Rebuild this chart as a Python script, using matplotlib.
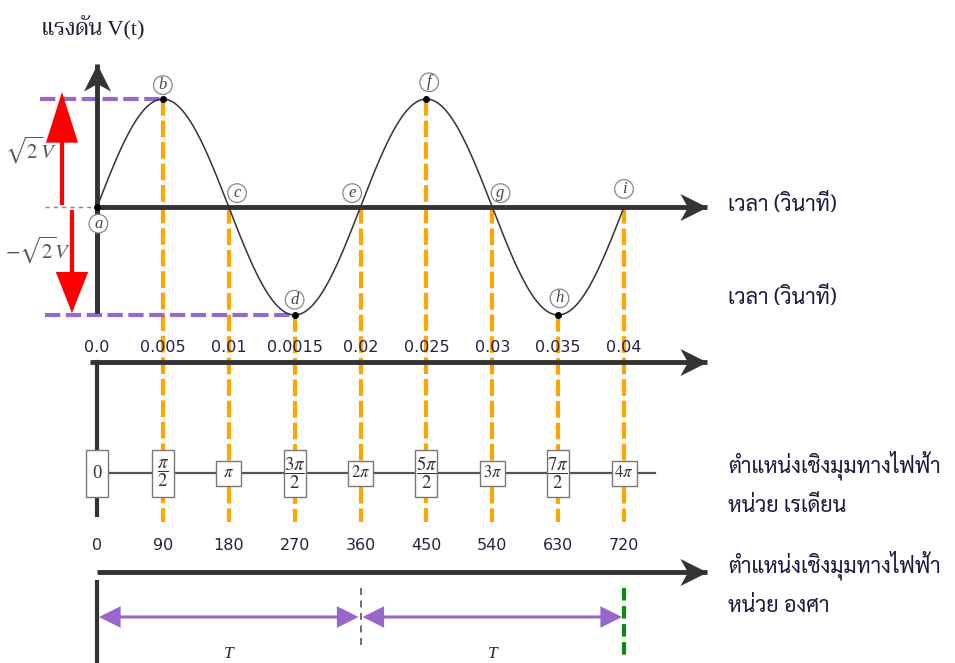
import numpy as np
import matplotlib
matplotlib.use('Agg')
import matplotlib.pyplot as plt
from matplotlib.patches import FancyArrowPatch, Rectangle
from matplotlib.path import Path
from matplotlib.markers import MarkerStyle
from matplotlib.transforms import Affine2D

plt.rcParams['lines.scale_dashes'] = False
plt.rcParams['mathtext.fontset'] = 'stix'

THAI = ['Sarabun', 'Niramit', 'DejaVu Sans']
THAI_SERIF = ['Liberation Serif', 'Trirong', 'Niramit']

# waveform: 50 Hz, two full cycles
FREQ = 50.0
t_ticks = [0.0, 0.005, 0.01, 0.015, 0.02, 0.025, 0.03, 0.035, 0.04]
t_labels = ['0.0', '0.005', '0.01', '0.0015', '0.02', '0.025', '0.03', '0.035', '0.04']
point_names = ['a', 'b', 'c', 'd', 'e', 'f', 'g', 'h', 'i']
rad_labels = ['0', r'$\dfrac{\pi}{2}$', r'$\pi$', r'$\dfrac{3\pi}{2}$', r'$2\pi$',
              r'$\dfrac{5\pi}{2}$', r'$3\pi$', r'$\dfrac{7\pi}{2}$', r'$4\pi$']
deg_labels = [0, 90, 180, 270, 360, 450, 540, 630, 720]
period_marks = [0.0, 0.02, 0.04]

# layout (pixel rows of the 955x663 canvas)
W, H = 955, 663
X0, Y0 = 97, 207
PX_PER_S = 527 / 0.04
AMP_PX = 108


def px(p):
    return (p - X0) / PX_PER_S


def py(p):
    return (Y0 - p) / AMP_PX


fig = plt.figure(figsize=(W / 100, H / 100), dpi=100)
ax = fig.add_axes([0, 0, 1, 1])
ax.set_xlim(px(0), px(W))
ax.set_ylim(py(H), py(0))
ax.axis('off')

AXC = '#333333'
ORANGE = '#FFA500'
PURPLE = '#9966CC'

# concave arrow head, tip at the origin, pointing +x
HEAD = Path([(0, 0), (-1, 0.5), (-0.72, 0), (-1, -0.5), (0, 0)],
            [Path.MOVETO, Path.LINETO, Path.LINETO, Path.LINETO, Path.CLOSEPOLY])


def axis_arrow(p0, p1, lw=3.5):
    (x0, y0), (x1, y1) = p0, p1
    ang = 90 if x0 == x1 else 0
    ax.plot([x0, x1], [y0, y1], color=AXC, lw=lw, zorder=3, solid_capstyle='butt')
    m = MarkerStyle(HEAD, transform=Affine2D().rotate_deg(ang))
    ax.plot([x1], [y1], marker=m, ms=39, color=AXC, mew=0, zorder=3)


def arrow(p0, p1, style, lw, color, ms=10, z=3):
    a = FancyArrowPatch(p0, p1, arrowstyle=style, lw=lw, color=color,
                        mutation_scale=ms, shrinkA=0, shrinkB=0, zorder=z,
                        joinstyle='miter', capstyle='butt')
    ax.add_patch(a)


tt = np.array(t_ticks)
vv = np.sin(2 * np.pi * FREQ * tt)

# orange drop lines from each marked point
for t, v in zip(tt[1:], vv[1:]):
    ax.plot([t, t], [v, py(522)], color=ORANGE, lw=3, ls=(0, (12, 3.5)), zorder=1)

# peak guide lines
ax.plot([px(40), tt[1]], [vv[1], vv[1]], color=PURPLE, lw=3, ls=(0, (11, 4)), zorder=2)
ax.plot([px(45), tt[3]], [vv[3], vv[3]], color=PURPLE, lw=3, ls=(0, (11, 4)), zorder=2)
ax.plot([px(45), 0], [0, 0], color='#888888', lw=1, ls=(0, (3, 3)), zorder=2)

# voltage / time axes
ax.plot([0, 0], [py(313), 0], color=AXC, lw=3.5, zorder=3, solid_capstyle='butt')
axis_arrow((0, py(313)), (0, py(64)))
axis_arrow((0, 0), (px(707), 0))

# sine wave
t = np.linspace(0, 0.04, 400)
ax.plot(t, np.sin(2 * np.pi * FREQ * t), color='#333333', lw=1.1, zorder=4)
ax.plot(tt[[1, 3, 5, 7]], vv[[1, 3, 5, 7]], 'o', color='black', ms=4, zorder=5)
ax.plot([0], [0], 'o', color='black', ms=4, zorder=5)

# circled point letters
offsets = [(1, -12), (0, 10), (6, 10), (0, 11), (-6, 10), (2, 12), (6, 10), (1, 12), (0, 13)]
for name, t0, v0, off in zip(point_names, tt, vv, offsets):
    ax.annotate(name, (t0, v0), xytext=off, textcoords='offset points',
                ha='center', va='center', fontsize=12, style='italic',
                family='Liberation Serif', color='#444444', zorder=6,
                bbox=dict(boxstyle='circle,pad=0.08', fc='white', ec='#888888', lw=0.9))

# amplitude arrows
arrow((px(62), py(205)), (px(62), py(92)), '-|>,head_length=3.0,head_width=0.95', 3, 'red', ms=10)
arrow((px(72), py(210)), (px(72), py(313)), '-|>,head_length=2.4,head_width=0.95', 3, 'red', ms=10)
ax.text(px(31), py(150), r'$\sqrt{2}V$', fontsize=15, color='#555555', ha='center', va='center')
ax.text(px(38), py(250), r'$-\sqrt{2}V$', fontsize=15, color='#555555', ha='center', va='center')

ax.text(px(42), py(28), 'แรงดัน V(t)', fontsize=16, family=THAI_SERIF, color='#1a1a33',
        ha='left', va='center')

# time scale row
for t0, lab in zip(tt, t_labels):
    ax.text(t0, py(347), lab, fontsize=11.5, ha='center', va='center', color='#222244')
axis_arrow((px(90), py(362)), (px(707), py(362)))
ax.plot([0, 0], [py(362), py(450)], color=AXC, lw=3, zorder=3)
ax.plot([0, 0], [py(495), py(515)], color=AXC, lw=3, zorder=3)

# radian row
ax.plot([px(110), px(655)], [py(473), py(473)], color='#555555', lw=1.6, zorder=4)
for t0, lab in zip(tt, rad_labels):
    tall = 'frac' in lab or lab == '0'
    w, h = (22, 47) if tall else (25, 25)
    ax.add_patch(Rectangle((t0 - w / 2 / PX_PER_S, py(473 + h / 2)), w / PX_PER_S, h / AMP_PX,
                           fc='white', ec='#777777', lw=1.0, zorder=5))
    ax.text(t0, py(473), lab, fontsize=13.5 if tall else 12, family='Liberation Serif',
            ha='center', va='center', color='#333333', zorder=6)

# degree row
for t0, lab in zip(tt, deg_labels):
    ax.text(t0, py(545), str(lab), fontsize=11.5, ha='center', va='center', color='#222244')
axis_arrow((0, py(572)), (px(707), py(572)))

# period brackets
ax.plot([0, 0], [py(582), py(H)], color=AXC, lw=3, zorder=3)
ax.plot([period_marks[1]] * 2, [py(588), py(645)], color='#555555', lw=1.2, ls=(0, (5, 4)))
ax.plot([period_marks[2]] * 2, [py(588), py(656)], color='#118811', lw=3, ls=(0, (9, 4)))
for a0, a1 in zip(period_marks[:-1], period_marks[1:]):
    arrow((a0 + px(99), py(617)), (a1 - px(99), py(617)),
          '<|-|>,head_length=1.2,head_width=0.6', 2.2, PURPLE, ms=10)
    ax.text((a0 + a1) / 2, py(654), 'T', fontsize=12.5, style='italic',
            family='Liberation Serif', ha='center', va='center', color='#222222')

# row captions
captions = [(205, 'เวลา (วินาที)'), (298, 'เวลา (วินาที)'),
            (465, 'ตำแหน่งเชิงมุมทางไฟฟ้า'), (506, 'หน่วย เรเดียน'),
            (565, 'ตำแหน่งเชิงมุมทางไฟฟ้า'), (606, 'หน่วย องศา')]
for yp, txt in captions:
    ax.text(px(728), py(yp), txt, fontsize=15.5, family=THAI, ha='left', va='center',
            color='#1a1a40')

fig.savefig('out.png', dpi=100)
